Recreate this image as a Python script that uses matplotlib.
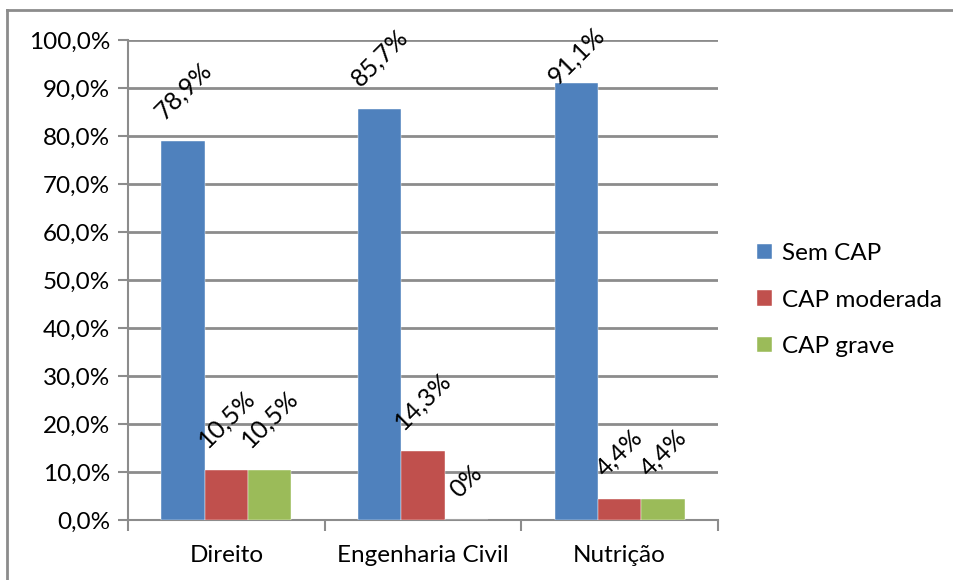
import numpy as np
import matplotlib
matplotlib.use("Agg")
import matplotlib.pyplot as plt
from matplotlib.lines import Line2D

plt.rcParams['font.family'] = ['Lato', 'DejaVu Sans']

# data
cursos = ["Direito", "Engenharia Civil", "Nutrição"]
series = ["Sem CAP", "CAP moderada", "CAP grave"]
sem_cap = [78.9, 85.7, 91.1]
cap_moderada = [10.5, 14.3, 4.4]
cap_grave = [10.5, 0.0, 4.4]
rotulos = [["78,9%", "85,7%", "91,1%"],
           ["10,5%", "14,3%", "4,4%"],
           ["10,5%", "0%", "4,4%"]]
y_ticks = [0, 10, 20, 30, 40, 50, 60, 70, 80, 90, 100]

cores = ["#4F81BD", "#C0504D", "#9BBB59"]
grid_cor = "#8C8C8C"

fig = plt.figure(figsize=(9.54, 5.8), dpi=100)
ax = fig.add_axes([128 / 954, 60 / 580, 590 / 954, 480 / 580])

x = np.arange(len(cursos))
largura = 0.22
valores = [sem_cap, cap_moderada, cap_grave]

for i, (serie, vals) in enumerate(zip(series, valores)):
    pos = x + (i - 1) * largura
    ax.bar(pos, vals, width=largura, color=cores[i], label=serie, zorder=3,
           edgecolor="white", linewidth=0.3)
    for xp, v, txt in zip(pos, vals, rotulos[i]):
        # keep label inside the top of the chart (like Excel does)
        topo_px = 480 * (1 - v / 100)
        gap_px = min(18, topo_px - 48)
        ax.annotate(txt, (xp, v), xytext=(0, gap_px * 0.72), textcoords="offset points",
                    rotation=45, ha="center", va="bottom", fontsize=18, zorder=4)

ax.set_xlim(-0.5, 2.5)
ax.set_ylim(0, 100)
ax.set_yticks(y_ticks)
ax.set_yticklabels([f"{t:.1f}%".replace(".", ",") for t in y_ticks], fontsize=17.5)
ax.yaxis.grid(True, color=grid_cor, linewidth=2, zorder=0)
ax.set_axisbelow(True)

ax.set_xticks(x)
ax.set_xticklabels(cursos, fontsize=17.5)
ax.tick_params(axis="x", length=0, pad=18)
ax.set_xticks([-0.5, 0.5, 1.5, 2.5], minor=True)
ax.tick_params(axis="x", which="minor", length=8, width=1.5, color=grid_cor)
ax.tick_params(axis="y", length=7, width=1.5, color=grid_cor, pad=6)

for s in ["top", "right"]:
    ax.spines[s].set_visible(False)
ax.spines["left"].set_color(grid_cor)
ax.spines["left"].set_linewidth(1.5)
ax.spines["bottom"].set_color(grid_cor)
ax.spines["bottom"].set_linewidth(1.5)

leg = ax.legend(loc="center left", bbox_to_anchor=(1.05, 0.458), frameon=False,
                fontsize=17.5, handlelength=0.6, handleheight=0.6, handletextpad=0.4,
                labelspacing=1.05, borderaxespad=0)

# border of the chart area (top and left edges visible)
fig.add_artist(Line2D([7 / 954, 7 / 954], [0, 1 - 10 / 580], transform=fig.transFigure,
                      color="#8C8C8C", linewidth=2))
fig.add_artist(Line2D([7 / 954, 1], [1 - 10 / 580, 1 - 10 / 580], transform=fig.transFigure,
                      color="#8C8C8C", linewidth=2))

fig.savefig("out.png", dpi=100)
